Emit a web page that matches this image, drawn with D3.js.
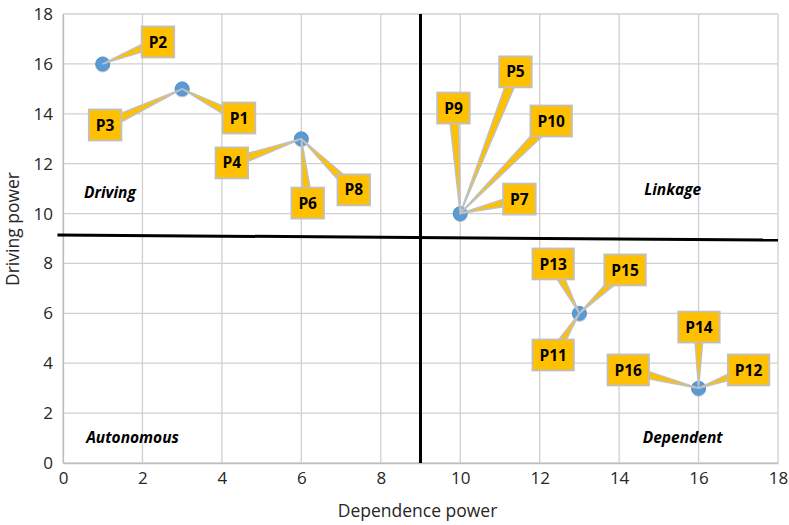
<!DOCTYPE html>
<html>
<head>
<meta charset="utf-8">
<script src="https://cdn.jsdelivr.net/npm/d3@7"></script>
<style>
  body { margin: 0; background: #fff; }
  text { font-family: "Open Sans", "Noto Sans", sans-serif; }
</style>
</head>
<body>
<div id="chart"></div>
<script>
// Factors: dependence (x) and driving (y) power
const factorNames = ["P1", "P2", "P3", "P4", "P5", "P6", "P7", "P8", "P9", "P10", "P11", "P12", "P13", "P14", "P15", "P16"];
const dependence  = [3, 1, 3, 6, 10, 6, 10, 6, 10, 10, 13, 16, 13, 16, 13, 16];
const driving     = [15, 16, 15, 13, 10, 13, 10, 13, 10, 10, 6, 3, 6, 3, 6, 3];

// where each callout box sits, in data units
const labelDep = [4.43, 2.39, 1.06, 4.25, 11.39, 6.16, 11.49, 7.32, 9.83, 12.29, 12.34, 17.26, 12.34, 16.01, 14.15, 14.23];
const labelDrv = [13.83, 16.88, 13.55, 12.03, 15.68, 10.42, 10.58, 10.95, 14.23, 13.71, 4.33, 3.73, 7.98, 5.45, 7.74, 3.73];

const ticks = [0, 2, 4, 6, 8, 10, 12, 14, 16, 18];

// quadrant names and the dividing lines
const quadrants = [
    {name: "Driving",    dep: 1.18, drv: 10.85},
    {name: "Linkage",    dep: 15.35, drv: 10.95},
    {name: "Autonomous", dep: 1.75, drv: 1.0},
    {name: "Dependent",  dep: 15.6, drv: 1.0}
];
const dividers = [
    [[9, 18], [9, 0]],
    [[-0.14, 9.14], [18, 8.94]]
];

const W = 789, H = 525;
const margin = {top: 14, right: 11, bottom: 62, left: 63};
const width = W - margin.left - margin.right;
const height = H - margin.top - margin.bottom;

const svg = d3.select("#chart").append("svg")
    .attr("width", W)
    .attr("height", H);
const g = svg.append("g")
    .attr("transform", "translate(" + margin.left + "," + margin.top + ")");

const x = d3.scaleLinear().domain([0, 18]).range([0, width]);
const y = d3.scaleLinear().domain([0, 18]).range([height, 0]);

// Grid
g.append("g").selectAll("line.v").data(ticks).enter().append("line")
    .attr("x1", d => x(d)).attr("x2", d => x(d))
    .attr("y1", 0).attr("y2", height)
    .attr("stroke", "#d0d0d0").attr("stroke-width", 1.3);
g.append("g").selectAll("line.h").data(ticks).enter().append("line")
    .attr("x1", 0).attr("x2", width)
    .attr("y1", d => y(d)).attr("y2", d => y(d))
    .attr("stroke", "#d0d0d0").attr("stroke-width", 1.3);

// Axes (labels only, Excel style)
const xAxis = g.append("g")
    .attr("transform", `translate(0,${height})`)
    .call(d3.axisBottom(x).tickValues(ticks).tickSize(0).tickPadding(9));
const yAxis = g.append("g")
    .call(d3.axisLeft(y).tickValues(ticks).tickSize(0).tickPadding(10));
[xAxis, yAxis].forEach(a => {
    a.select(".domain").attr("stroke", "#bfbfbf").attr("stroke-width", 1.3);
    a.selectAll("text").style("font-size", "17px").attr("fill", "#262626")
        .style("font-family", "'Open Sans', sans-serif");
});

// Axis titles
svg.append("text")
    .attr("x", margin.left + width / 2 - 3)
    .attr("y", 517)
    .attr("text-anchor", "middle")
    .style("font-size", "17.5px")
    .attr("fill", "#262626")
    .text("Dependence power");
svg.append("text")
    .attr("transform", "translate(19,229) rotate(-90)")
    .attr("text-anchor", "middle")
    .style("font-size", "17.5px")
    .attr("fill", "#262626")
    .text("Driving power");

// Quadrant dividers
g.selectAll("line.divider").data(dividers).enter().append("line")
    .attr("x1", d => x(d[0][0])).attr("y1", d => y(d[0][1]))
    .attr("x2", d => x(d[1][0])).attr("y2", d => y(d[1][1]))
    .attr("stroke", "#000").attr("stroke-width", 3);

// Quadrant names
g.selectAll("text.quad").data(quadrants).enter().append("text")
    .attr("x", d => x(d.dep))
    .attr("y", d => y(d.drv))
    .attr("text-anchor", "middle")
    .attr("dy", "0.35em")
    .style("font-size", "15.5px")
    .style("font-weight", "bold")
    .style("font-style", "italic")
    .attr("fill", "#000")
    .text(d => d.name);

// Markers
const points = factorNames.map((n, i) => ({
    name: n, dep: dependence[i], drv: driving[i], ldep: labelDep[i], ldrv: labelDrv[i]
}));
function uniqPos(arr) {
    const seen = {};
    return arr.filter(d => {
        const k = d.dep + "," + d.drv;
        if (seen[k]) return false;
        seen[k] = true;
        return true;
    });
}
g.selectAll("circle").data(uniqPos(points)).enter().append("circle")
    .attr("cx", d => x(d.dep))
    .attr("cy", d => y(d.drv) + 1)
    .attr("r", 7.5)
    .attr("fill", "#3f6fa0")
    .attr("opacity", 0.35);
g.selectAll("circle.pt").data(uniqPos(points)).enter().append("circle")
    .attr("class", "pt")
    .attr("cx", d => x(d.dep))
    .attr("cy", d => y(d.drv))
    .attr("r", 7)
    .attr("fill", "#5b9bd5")
    .attr("stroke", "#4a86c0")
    .attr("stroke-width", 0.8);

// Callouts: wedge from box to point, then the box
const callouts = g.selectAll("g.callout").data(points).enter().append("g")
    .attr("class", "callout");

callouts.each(function (d) {
    const grp = d3.select(this);
    const cx = x(d.ldep), cy = y(d.ldrv);
    const px = x(d.dep), py = y(d.drv);
    const txt = grp.append("text")
        .attr("x", cx).attr("y", cy)
        .attr("text-anchor", "middle")
        .attr("dy", "0.36em")
        .style("font-size", "15.5px")
        .style("font-weight", "bold")
        .attr("fill", "#000")
        .text(d.name);
    const bw = txt.node().getComputedTextLength() + 14;
    const bh = 31;
    const dx = px - cx, dy = py - cy;
    const len = Math.sqrt(dx * dx + dy * dy);
    const nx = -dy / len, ny = dx / len;
    const hw = 5;
    grp.insert("path", "text")
        .attr("d", `M${cx + nx * hw},${cy + ny * hw}L${px},${py}L${cx - nx * hw},${cy - ny * hw}Z`)
        .attr("fill", "#ffc000")
        .attr("stroke", "#c0c0c0")
        .attr("stroke-width", 1.5)
        .attr("stroke-linejoin", "round");
    grp.insert("rect", "text")
        .attr("x", cx - bw / 2).attr("y", cy - bh / 2)
        .attr("width", bw).attr("height", bh)
        .attr("fill", "#ffc000")
        .attr("stroke", "#c0c0c0")
        .attr("stroke-width", 1.8);
});
</script>
</body>
</html>
